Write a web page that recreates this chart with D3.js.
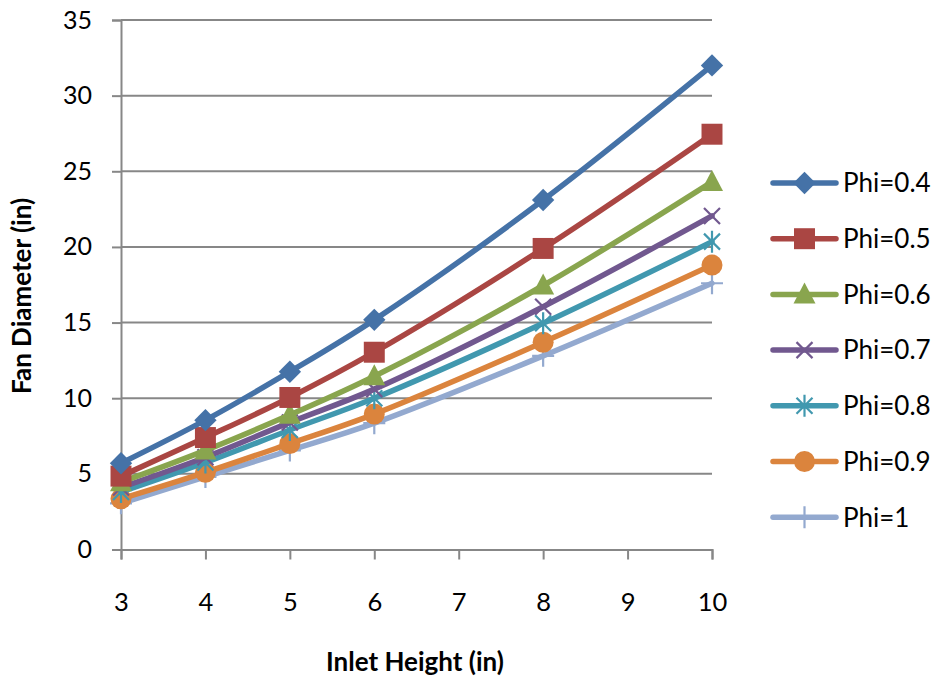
<!DOCTYPE html>
<html>
<head>
<meta charset="utf-8">
<script src="https://cdn.jsdelivr.net/npm/d3@7"></script>
<style>
  html, body { margin: 0; padding: 0; background: #fff; }
  svg { display: block; font-family: Lato, "Liberation Sans", sans-serif; }
</style>
</head>
<body>
<svg id="chart" width="941" height="681"></svg>
<script>
const inletHeights = [3, 4, 5, 6, 8, 10];
const xTicks = [3, 4, 5, 6, 7, 8, 9, 10];
const yTicks = [0, 5, 10, 15, 20, 25, 30, 35];
const seriesNames = ["Phi=0.4", "Phi=0.5", "Phi=0.6", "Phi=0.7", "Phi=0.8", "Phi=0.9", "Phi=1"];
const phi04 = [5.7, 8.55, 11.75, 15.18, 23.1, 32.0];
const phi05 = [4.85, 7.4, 10.05, 13.04, 19.9, 27.45];
const phi06 = [4.45, 6.55, 8.9, 11.45, 17.45, 24.3];
const phi07 = [4.1, 6.1, 8.4, 10.6, 16.05, 22.05];
const phi08 = [3.8, 5.75, 7.9, 10.0, 14.95, 20.35];
const phi09 = [3.35, 5.1, 7.0, 8.95, 13.7, 18.8];
const phi10 = [3.05, 4.8, 6.55, 8.35, 12.8, 17.6];
const seriesValues = [phi04, phi05, phi06, phi07, phi08, phi09, phi10];
const colors = ["#4572A7", "#AA4643", "#89A54E", "#71588F", "#4198AF", "#DB843D", "#93A9CF"];
const markerTypes = ["diamond", "square", "triangle", "x", "star", "circle", "plus"];

(function () {
const svg = d3.select("#chart");
const pLeft = 121, pRight = 712, pTop = 20, pBottom = 549.5;
const x = d3.scaleLinear().domain([3, 10]).range([pLeft, pRight]);
const y = d3.scaleLinear().domain([0, 35]).range([pBottom, pTop]);
const gridColor = "#878787";

svg.append("g").selectAll("line").data(yTicks.filter(d => d > 0)).join("line")
  .attr("x1", pLeft).attr("x2", pRight)
  .attr("y1", d => y(d)).attr("y2", d => y(d))
  .attr("stroke", gridColor).attr("stroke-width", 2);

const yAxis = svg.append("g").attr("transform", `translate(${pLeft},0)`)
  .call(d3.axisLeft(y).tickValues(yTicks).tickSize(9).tickPadding(20));
yAxis.select(".domain").attr("stroke", gridColor).attr("stroke-width", 2);
yAxis.selectAll(".tick line").attr("stroke", gridColor).attr("stroke-width", 2);
yAxis.selectAll(".tick text").attr("font-size", 25).attr("fill", "#000")
  .attr("font-family", "Lato, sans-serif");

const xAxis = svg.append("g").attr("transform", `translate(0,${pBottom})`)
  .call(d3.axisBottom(x).tickValues(xTicks).tickSize(10).tickPadding(33).tickFormat(d3.format("d")));
xAxis.select(".domain").attr("stroke", gridColor).attr("stroke-width", 2);
xAxis.selectAll(".tick line").attr("stroke", gridColor).attr("stroke-width", 2);
xAxis.selectAll(".tick text").attr("font-size", 25.5).attr("fill", "#000")
  .attr("font-family", "Lato, sans-serif");

svg.append("text").attr("x", 415).attr("y", 671).attr("text-anchor", "middle")
  .attr("font-size", 26).attr("font-weight", "bold").text("Inlet Height (in)");
svg.append("text").attr("transform", "translate(31,296) rotate(-90)").attr("text-anchor", "middle")
  .attr("font-size", 26).attr("font-weight", "bold").text("Fan Diameter (in)");

function drawMarker(g, type, color) {
  if (type === "diamond") {
    g.append("path").attr("d", d3.symbol(d3.symbolSquare, 250)()).attr("transform", "rotate(45)").attr("fill", color);
  } else if (type === "square") {
    g.append("path").attr("d", d3.symbol(d3.symbolSquare, 440)()).attr("fill", color);
  } else if (type === "triangle") {
    g.append("path").attr("d", "M0,-12L11,9L-11,9Z").attr("fill", color);
  } else if (type === "circle") {
    g.append("circle").attr("r", 10.5).attr("fill", color);
  } else if (type === "x") {
    g.append("path").attr("d", "M-8,-8L8,8M-8,8L8,-8").attr("stroke", color).attr("stroke-width", 2.2).attr("fill", "none");
  } else if (type === "star") {
    g.append("path").attr("d", "M-8,-8L8,8M-8,8L8,-8M0,-11L0,11").attr("stroke", color).attr("stroke-width", 2.2).attr("fill", "none");
  } else if (type === "plus") {
    g.append("path").attr("d", "M0,-11L0,11M-11,0L11,0").attr("stroke", color).attr("stroke-width", 2.2).attr("fill", "none");
  }
}

const line = d3.line().x(d => x(d[0])).y(d => y(d[1])).curve(d3.curveCatmullRom.alpha(0.5));

for (let i = seriesValues.length - 1; i >= 0; i--) {
  const pts = inletHeights.map((h, j) => [h, seriesValues[i][j]]);
  const g = svg.append("g");
  g.append("path").attr("d", line(pts)).attr("fill", "none")
    .attr("stroke", colors[i]).attr("stroke-width", 5.5).attr("stroke-linejoin", "round").attr("stroke-linecap", "round");
  pts.forEach(p => {
    const mg = g.append("g").attr("transform", `translate(${x(p[0])},${y(p[1])})`);
    drawMarker(mg, markerTypes[i], colors[i]);
  });
}

const legend = svg.append("g");
seriesNames.forEach((name, i) => {
  const ly = 183 + i * 55.7;
  const lg = legend.append("g");
  lg.append("line").attr("x1", 773).attr("x2", 836).attr("y1", ly).attr("y2", ly)
    .attr("stroke", colors[i]).attr("stroke-width", 5.5).attr("stroke-linecap", "round");
  const mg = lg.append("g").attr("transform", `translate(804.5,${ly})`);
  drawMarker(mg, markerTypes[i], colors[i]);
  lg.append("text").attr("x", 843).attr("y", ly).attr("dy", "0.36em")
    .attr("font-size", 26).attr("fill", "#000").text(name);
});
})();
</script>
</body>
</html>
